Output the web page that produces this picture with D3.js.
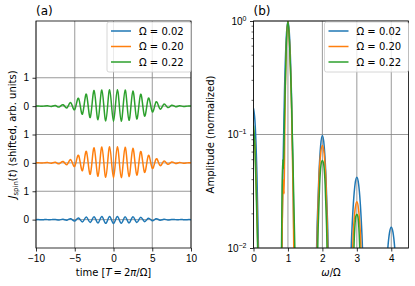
<!DOCTYPE html>
<html>
<head>
<meta charset="UTF-8">
<script src="https://d3js.org/d3.v7.min.js"></script>
<style>
  body { margin: 0; background: #fff; }
  svg { font-family: "DejaVu Sans", sans-serif; }
  .tick text { font-size: 10px; fill: #000; }
  .tick line { stroke: #000; stroke-width: 0.8; }
  .grid line { stroke: #808080; stroke-width: 0.8; }
</style>
</head>
<body>
<svg width="415" height="286"></svg>
<script>
  // ---- data ----
  const labels = ["\u03a9 = 0.02", "\u03a9 = 0.20", "\u03a9 = 0.22"];
  const colors = ["#1f77b4", "#ff7f0e", "#2ca02c"];
  const offsets = [0, 2, 4];

  // time in units of T, extrema every half period
  const tVals = [-10, -9.5, -9, -8.5, -8, -7.5, -7, -6.5, -6, -5.5, -5, -4.5, -4, -3.5, -3, -2.5, -2, -1.5, -1, -0.5,
    0, 0.5, 1, 1.5, 2, 2.5, 3, 3.5, 4, 4.5, 5, 5.5, 6, 6.5, 7, 7.5, 8, 8.5, 9, 9.5, 10];
  const sig002 = [0, 0, 0, 0, 0, 0.005, -0.01, 0.01, -0.02, 0.03, -0.05, 0.06, -0.08, 0.09, -0.10, 0.10, -0.12, 0.11, -0.13, 0.11,
    -0.14, 0.11, -0.13, 0.10, -0.12, 0.10, -0.10, 0.08, -0.07, 0.05, -0.04, 0.03, -0.02, 0.01, -0.01, 0.005, 0, 0, 0, 0, 0];
  const sig020 = [0, 0, 0, 0.01, -0.01, 0.02, -0.03, 0.05, -0.06, 0.11, -0.12, 0.26, -0.27, 0.40, -0.40, 0.53, -0.47, 0.56, -0.51, 0.57,
    -0.53, 0.57, -0.52, 0.55, -0.48, 0.51, -0.43, 0.40, -0.33, 0.26, -0.19, 0.14, -0.09, 0.06, -0.05, 0.03, -0.02, 0.01, -0.01, 0, 0];
  const sig022 = [0, 0, 0, 0.01, -0.01, 0.02, -0.03, 0.05, -0.06, 0.12, -0.12, 0.27, -0.28, 0.42, -0.40, 0.55, -0.48, 0.57, -0.52, 0.58,
    -0.54, 0.58, -0.53, 0.57, -0.50, 0.53, -0.45, 0.42, -0.35, 0.28, -0.20, 0.15, -0.10, 0.07, -0.05, 0.03, -0.02, 0.01, -0.01, 0, 0];

  // spectra (omega / Omega, normalized amplitude)
  const specW002 = [0, 0.05, 0.10, 0.15, 0.17, 0.5, 0.80, 0.85, 0.90, 0.95, 1.00, 1.05, 1.10, 1.15, 1.20, 1.5,
    1.80, 1.85, 1.90, 1.95, 2.00, 2.05, 2.10, 2.15, 2.20, 2.5, 2.80, 2.85, 2.90, 2.95, 3.00, 3.05, 3.10, 3.15, 3.20, 3.5,
    3.85, 3.90, 3.95, 4.00, 4.05, 4.10, 4.15, 4.5];
  const specA002 = [0.17, 0.12, 0.044, 0.0082, 0.0035, 0.001, 0.0033, 0.04, 0.24, 0.70, 1.0, 0.70, 0.24, 0.04, 0.0033, 0.001,
    0.0043, 0.0168, 0.0448, 0.0805, 0.098, 0.0805, 0.0448, 0.0168, 0.0043, 0.001, 0.0051, 0.0128, 0.0248, 0.0368, 0.042, 0.0368, 0.0248, 0.0128, 0.0051, 0.001,
    0.0059, 0.0100, 0.0137, 0.0152, 0.0137, 0.0100, 0.0059, 0.001];
  const specW020 = [0, 0.05, 0.10, 0.13, 0.16, 0.5, 0.81, 0.84, 0.87, 0.89, 0.91, 0.95, 1.0, 1.05, 1.10, 1.15, 1.19, 1.5,
    1.82, 1.86, 1.90, 1.95, 2.0, 2.05, 2.10, 2.14, 2.18, 2.5, 2.85, 2.90, 2.95, 3.0, 3.05, 3.10, 3.15, 3.5, 4.5];
  const specA020 = [0.11, 0.07, 0.022, 0.009, 0.003, 0.001, 0.004, 0.02, 0.04, 0.03, 0.12, 0.55, 1.0, 0.6, 0.2, 0.03, 0.004, 0.001,
    0.004, 0.016, 0.04, 0.068, 0.08, 0.068, 0.04, 0.016, 0.004, 0.001, 0.006, 0.014, 0.022, 0.0255, 0.022, 0.014, 0.006, 0.001, 0.001];
  const specW022 = [0, 0.04, 0.08, 0.12, 0.15, 0.5, 0.80, 0.83, 0.85, 0.87, 0.90, 0.95, 1.0, 1.05, 1.10, 1.15, 1.20, 1.24, 1.5,
    1.84, 1.88, 1.92, 1.96, 2.0, 2.04, 2.08, 2.12, 2.16, 2.5, 2.89, 2.93, 2.97, 3.0, 3.03, 3.07, 3.11, 3.5, 4.5];
  const specA022 = [0.12, 0.08, 0.03, 0.01, 0.004, 0.001, 0.004, 0.035, 0.06, 0.05, 0.14, 0.58, 1.0, 0.6, 0.22, 0.05, 0.01, 0.003, 0.001,
    0.005, 0.016, 0.036, 0.054, 0.059, 0.054, 0.036, 0.016, 0.005, 0.001, 0.006, 0.013, 0.019, 0.0198, 0.019, 0.013, 0.006, 0.001, 0.001];

  const timeTicks = [-10, -5, 0, 5, 10];
  const shiftTicks = [0, 1, 2, 3, 4, 5];
  const shiftTickLabels = ["0", "1", "0", "1", "0", "1"];
  const omegaTicks = [0, 1, 2, 3, 4];
  const ampTicks = [0.01, 0.1, 1];
  const ampTickExp = ["\u22122", "\u22121", "0"];

  const signals = [sig002, sig020, sig022];
  const specW = [specW002, specW020, specW022];
  const specA = [specA002, specA020, specA022];

  // ---- layout ----
  const svg = d3.select("svg");
  const plotTop = 21, plotBottom = 248;
  const A = { left: 36, right: 191 };
  const B = { left: 253.5, right: 408.5 };

  const xA = d3.scaleLinear().domain([-10, 10]).range([A.left, A.right]);
  const yA = d3.scaleLinear().domain([-1, 7]).range([plotBottom, plotTop]);
  const xB = d3.scaleLinear().domain([0, 4.5]).range([B.left, B.right]);
  const yB = d3.scaleLog().domain([0.01, 1]).range([plotBottom, plotTop]);

  const minus = d => (d < 0 ? "\u2212" + Math.abs(d) : "" + d);

  // ---- panel (a) ----
  const gA = svg.append("g");
  gA.append("clipPath").attr("id", "clipA").append("rect")
    .attr("x", A.left).attr("y", plotTop).attr("width", A.right - A.left).attr("height", plotBottom - plotTop);

  const gridA = gA.append("g").attr("class", "grid");
  gridA.selectAll(".v").data(timeTicks).enter().append("line")
    .attr("x1", d => xA(d)).attr("x2", d => xA(d)).attr("y1", plotTop).attr("y2", plotBottom);
  gridA.selectAll(".h").data(shiftTicks).enter().append("line")
    .attr("x1", A.left).attr("x2", A.right).attr("y1", d => yA(d)).attr("y2", d => yA(d));

  const lineA = d3.line().curve(d3.curveNatural);
  signals.forEach((s, i) => {
    gA.append("path")
      .attr("clip-path", "url(#clipA)")
      .attr("d", lineA(tVals.map((t, j) => [xA(t), yA(s[j] + offsets[i])])))
      .attr("fill", "none").attr("stroke", colors[i]).attr("stroke-width", 1.5);
  });

  gA.append("g").attr("transform", `translate(0,${plotBottom})`)
    .call(d3.axisBottom(xA).tickValues(timeTicks).tickFormat(minus).tickSize(3.5).tickPadding(3.5))
    .call(g => g.select(".domain").remove());
  gA.append("g").attr("transform", `translate(${A.left},0)`)
    .call(d3.axisLeft(yA).tickValues(shiftTicks).tickFormat((d, i) => shiftTickLabels[i]).tickSize(3.5).tickPadding(3.5))
    .call(g => g.select(".domain").remove());

  gA.append("rect").attr("x", A.left).attr("y", plotTop).attr("width", A.right - A.left).attr("height", plotBottom - plotTop)
    .attr("fill", "none").attr("stroke", "#000").attr("stroke-width", 0.8);

  gA.append("text").attr("x", A.left).attr("y", 15).attr("font-size", 12).text("(a)");
  const xlA = gA.append("text").attr("x", (A.left + A.right) / 2).attr("y", 276)
    .attr("text-anchor", "middle").attr("font-size", 10);
  xlA.append("tspan").text("time [");
  xlA.append("tspan").attr("font-style", "italic").text("T");
  xlA.append("tspan").text("\u2009=\u20092");
  xlA.append("tspan").attr("font-style", "italic").text("\u03c0");
  xlA.append("tspan").text("/\u03a9]");

  const ylA = gA.append("text").attr("transform", `translate(16,${(plotTop + plotBottom) / 2}) rotate(-90)`)
    .attr("text-anchor", "middle").attr("font-size", 10);
  ylA.append("tspan").attr("font-style", "italic").text("J");
  ylA.append("tspan").attr("font-size", 7).attr("dy", 2).text("spin");
  ylA.append("tspan").attr("dy", -2).text("(");
  ylA.append("tspan").attr("font-style", "italic").text("t");
  ylA.append("tspan").text(") (shifted, arb. units)");

  // ---- panel (b) ----
  const gB = svg.append("g");
  gB.append("clipPath").attr("id", "clipB").append("rect")
    .attr("x", B.left).attr("y", plotTop).attr("width", B.right - B.left).attr("height", plotBottom - plotTop);

  const gridB = gB.append("g").attr("class", "grid");
  gridB.selectAll(".v").data(omegaTicks).enter().append("line")
    .attr("x1", d => xB(d)).attr("x2", d => xB(d)).attr("y1", plotTop).attr("y2", plotBottom);
  gridB.selectAll(".h").data(ampTicks).enter().append("line")
    .attr("x1", B.left).attr("x2", B.right).attr("y1", d => yB(d)).attr("y2", d => yB(d));

  const lineB = d3.line().curve(d3.curveMonotoneX);
  specW.forEach((w, i) => {
    gB.append("path")
      .attr("clip-path", "url(#clipB)")
      .attr("d", lineB(w.map((v, j) => [xB(v), yB(specA[i][j])])))
      .attr("fill", "none").attr("stroke", colors[i]).attr("stroke-width", 1.5);
  });

  gB.append("g").attr("transform", `translate(0,${plotBottom})`)
    .call(d3.axisBottom(xB).tickValues(omegaTicks).tickFormat(d => d).tickSize(3.5).tickPadding(3.5))
    .call(g => g.select(".domain").remove());

  const yAxB = gB.append("g").attr("transform", `translate(${B.left},0)`)
    .call(d3.axisLeft(yB).tickValues(ampTicks).tickFormat(() => "").tickSize(3.5).tickPadding(3.5))
    .call(g => g.select(".domain").remove());
  yAxB.selectAll(".tick text").each(function(d, i) {
    const t = d3.select(this);
    t.append("tspan").text("10");
    t.append("tspan").attr("font-size", 7).attr("dy", -4).text(ampTickExp[i]);
  });
  const minor = [];
  [0.01, 0.1].forEach(dec => { for (let k = 2; k <= 9; k++) minor.push(dec * k); });
  gB.append("g").selectAll("line").data(minor).enter().append("line")
    .attr("x1", B.left - 2).attr("x2", B.left).attr("y1", d => yB(d)).attr("y2", d => yB(d))
    .attr("stroke", "#000").attr("stroke-width", 0.6);

  gB.append("rect").attr("x", B.left).attr("y", plotTop).attr("width", B.right - B.left).attr("height", plotBottom - plotTop)
    .attr("fill", "none").attr("stroke", "#000").attr("stroke-width", 0.8);

  gB.append("text").attr("x", B.left).attr("y", 15).attr("font-size", 12).text("(b)");
  const xlB = gB.append("text").attr("x", (B.left + B.right) / 2).attr("y", 276)
    .attr("text-anchor", "middle").attr("font-size", 10);
  xlB.append("tspan").attr("font-style", "italic").text("\u03c9");
  xlB.append("tspan").text("/\u03a9");
  gB.append("text").attr("transform", `translate(214,${(plotTop + plotBottom) / 2}) rotate(-90)`)
    .attr("text-anchor", "middle").attr("font-size", 10).text("Amplitude (normalized)");

  // ---- legends ----
  function legend(right) {
    const w = 84, h = 50, L = right - w, T = plotTop + 1;
    const g = svg.append("g");
    g.append("rect").attr("x", L).attr("y", T).attr("width", w).attr("height", h).attr("rx", 2)
      .attr("fill", "#fff").attr("fill-opacity", 0.8).attr("stroke", "#cccccc").attr("stroke-width", 0.8);
    labels.forEach((lab, i) => {
      const cy = T + 9 + i * 15.5;
      g.append("line").attr("x1", L + 4).attr("x2", L + 24).attr("y1", cy).attr("y2", cy)
        .attr("stroke", colors[i]).attr("stroke-width", 1.5);
      g.append("text").attr("x", L + 32).attr("y", cy + 3.6).attr("font-size", 10).text(lab);
    });
  }
  legend(A.right);
  legend(B.right);
</script>
</body>
</html>
